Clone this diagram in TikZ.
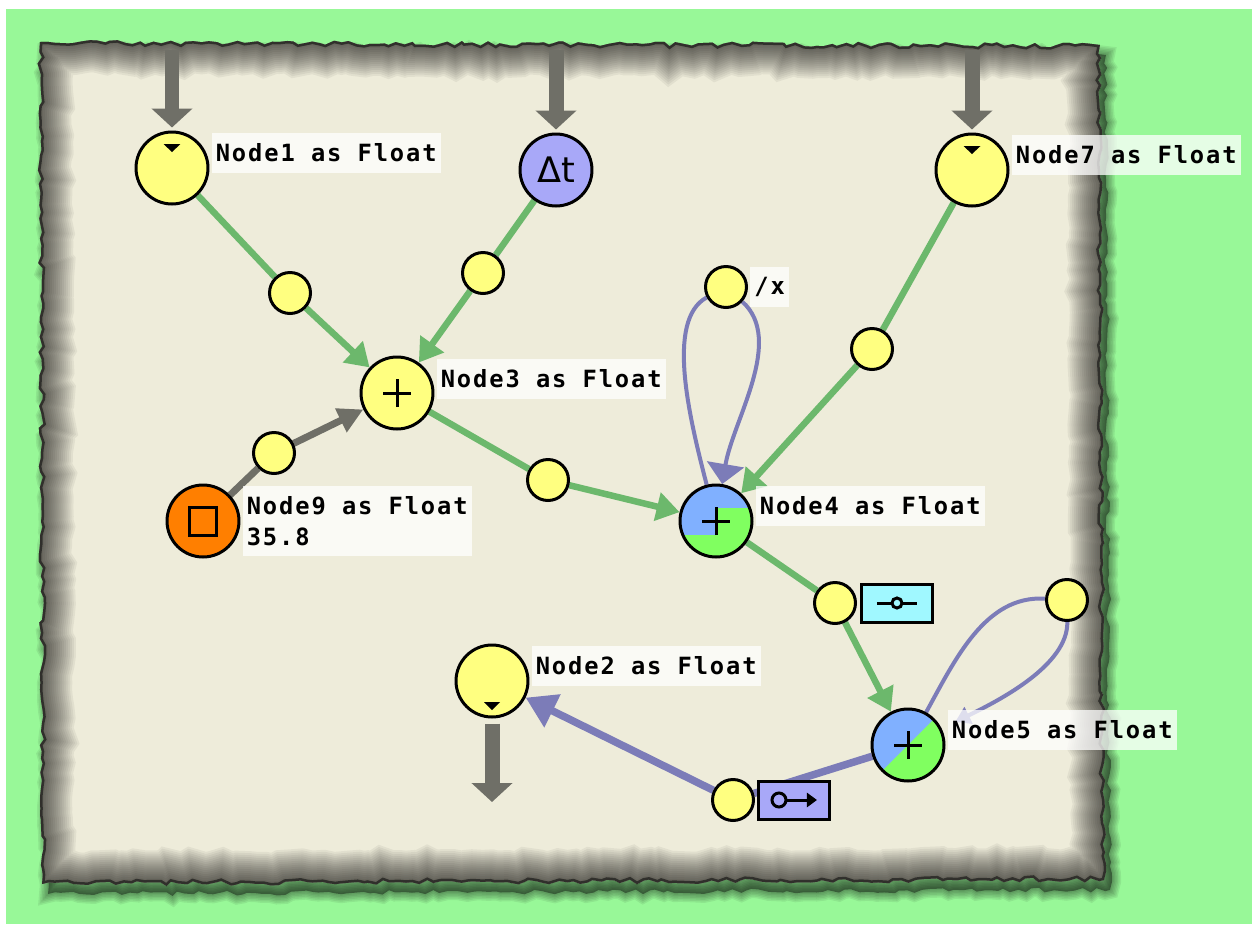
\documentclass[tikz,border=0pt]{standalone}
\usepackage{fontspec}
\usetikzlibrary{positioning, arrows.meta, decorations.pathmorphing}
\newfontfamily\tagfont{DejaVu Sans Mono}[LetterSpace=8]
\newfontfamily\symfont{DejaVu Sans}
\definecolor{meadow}{HTML}{98F898}
\definecolor{parchment}{HTML}{EEECDA}
\definecolor{dotyellow}{HTML}{FFFF80}
\definecolor{flowgreen}{HTML}{6CB86C}
\definecolor{loopblue}{HTML}{7C7CB8}
\definecolor{feedgrey}{HTML}{6F6F67}
\definecolor{sumblue}{HTML}{80B0FF}
\definecolor{sumgreen}{HTML}{80FF60}
\definecolor{constorange}{HTML}{FF7F00}
\definecolor{timeviolet}{HTML}{A8A8F8}
\definecolor{gatecyan}{HTML}{A0F8FF}
\pgfdeclarelayer{paper}
\pgfdeclarelayer{wires}
\pgfsetlayers{paper,wires,main}
% outline of the torn sheet, in pixels
\newcommand{\paperedge}{(40,42) -- (1100,45) -- (1104,880) -- (42,884) -- cycle}
\newcommand{\plusmark}{\draw[black, line width=0.06cm]
  ([xshift=-0.28cm]path picture bounding box.center) -- ([xshift=0.28cm]path picture bounding box.center)
  ([yshift=-0.28cm]path picture bounding box.center) -- ([yshift=0.28cm]path picture bounding box.center);}
\tikzset{
  tornedge/.style={decorate, decoration={random steps, segment length=0.14cm, amplitude=0.05cm}},
  op/.style={circle, draw, line width=0.06cm, minimum size=1.44cm, inner sep=0pt},
  port/.style={circle, draw, line width=0.06cm, fill=dotyellow, minimum size=0.82cm, inner sep=0pt},
  gate/.style={draw, line width=0.06cm, minimum width=1.42cm, minimum height=0.76cm, inner sep=0pt},
  tag/.style={fill=white, fill opacity=0.75, text opacity=1, align=left,
    font=\tagfont\bfseries\fontsize{13.5}{18}\selectfont, inner xsep=0.08cm, inner ysep=0.21cm},
  notchtop/.style={path picture={\fill[black] ([shift={(-0.17cm,-0.24cm)}]path picture bounding box.north)
    -- ([shift={(0.17cm,-0.24cm)}]path picture bounding box.north) -- ([yshift=-0.4cm]path picture bounding box.north) -- cycle;}},
  notchbottom/.style={path picture={\fill[black] ([shift={(-0.16cm,0.3cm)}]path picture bounding box.south)
    -- ([shift={(0.16cm,0.3cm)}]path picture bounding box.south) -- ([yshift=0.14cm]path picture bounding box.south) -- cycle;}},
  sumplain/.style={fill=dotyellow, path picture={\plusmark}},
  sumflat/.style={path picture={
    \fill[sumgreen] (path picture bounding box.south west) rectangle (path picture bounding box.north east);
    \fill[sumblue] (path picture bounding box.north west) rectangle ([yshift=-0.46cm]path picture bounding box.north east);
    \fill[sumblue] (path picture bounding box.north west) rectangle ([yshift=-1.0cm]path picture bounding box.north);
    \plusmark}},
  sumslant/.style={fill=sumblue, path picture={
    \fill[sumgreen] (path picture bounding box.south west) -- (path picture bounding box.north east)
      -- (path picture bounding box.south east) -- cycle;
    \plusmark}},
  flow/.style={draw=flowgreen, line width=0.13cm},
  flowtip/.style={flow, -{Triangle[length=0.46cm,width=0.56cm]}},
  loopwire/.style={draw=loopblue, line width=0.08cm},
  backwire/.style={draw=loopblue, line width=0.15cm},
  feed/.style={draw=feedgrey, line width=0.3cm, -{Triangle[length=0.38cm,width=0.8cm]}},
  feedthin/.style={draw=feedgrey, line width=0.14cm},
}

\begin{document}
\begin{tikzpicture}[x=0.02cm, y=-0.02cm]
\useasboundingbox (0,0) rectangle (1252,924);

% background and torn sheet
\begin{pgfonlayer}{paper}
  \fill[white] (0,0) rectangle (1252,924);
  \fill[meadow] (6,9) rectangle (1252,924);
  \begin{scope}[shift={(6,10)}] % drop shadow
    \foreach \w in {0.06,0.12,...,0.36} {
      \pgfmathsetseed{11}
      \draw[tornedge, black, opacity=0.07, line width=\w cm] \paperedge;
    }
    \pgfmathsetseed{11}
    \fill[tornedge, black, opacity=0.4] \paperedge;
  \end{scope}
  \pgfmathsetseed{11}
  \fill[tornedge, parchment] \paperedge;
  \begin{scope} % scorched rim
    \pgfmathsetseed{11}
    \clip[tornedge] \paperedge;
    \foreach \w in {0.08,0.16,...,1.3} {
      \pgfmathsetseed{11}
      \draw[tornedge, black, opacity=0.05, line width=\w cm] \paperedge;
    }
    \pgfmathsetseed{11}
    \draw[tornedge, black, opacity=0.5, line width=0.1cm] \paperedge;
  \end{scope}
\end{pgfonlayer}

% operators
\node[op, fill=dotyellow, notchtop] (n1) at (172,168) {};
\node[op, fill=timeviolet, font=\symfont\fontsize{20}{24}\selectfont] (dt) at (556,170) {Δt};
\node[op, fill=dotyellow, notchtop] (n7) at (972,170) {};
\node[op, sumplain] (n3) at (397,393) {};
\node[op, fill=constorange, path picture={\draw[black, line width=0.06cm]
  ([shift={(-0.28cm,-0.28cm)}]path picture bounding box.center) rectangle
  ([shift={(0.28cm,0.28cm)}]path picture bounding box.center);}] (n9) at (203,521) {};
\node[op, sumflat] (n4) at (716,521) {};
\node[op, sumslant] (n5) at (908,745) {};
\node[op, fill=dotyellow, notchbottom] (n2) at (492,681) {};

% ports on the wires
\node[port] (p1) at (290,293) {};
\node[port] (pdt) at (483,273) {};
\node[port] (p7) at (872,349) {};
\node[port] (px) at (726,287) {};
\node[port] (p9) at (274,453) {};
\node[port] (p3) at (548,480) {};
\node[port] (p4) at (835,603) {};
\node[port] (pr) at (1067,600) {};
\node[port] (p5) at (733,800) {};

% gates next to ports
\node[gate, fill=gatecyan, right=0.06cm of p4, path picture={
  \draw[black, line width=0.06cm] ([xshift=-0.4cm]path picture bounding box.center) -- ([xshift=-0.1cm]path picture bounding box.center)
    ([xshift=0.1cm]path picture bounding box.center) -- ([xshift=0.4cm]path picture bounding box.center);
  \draw[black, line width=0.06cm] (path picture bounding box.center) circle (0.1cm);}] (g4) {};
\node[gate, fill=timeviolet, right=0.04cm of p5, path picture={
  \draw[black, line width=0.06cm] ([xshift=-0.3cm]path picture bounding box.center) circle (0.14cm);
  \draw[black, line width=0.06cm, -{Triangle[length=0.2cm,width=0.28cm]}]
    ([xshift=-0.16cm]path picture bounding box.center) -- ([xshift=0.46cm]path picture bounding box.center);}] (g5) {};

% captions
\node[tag, right=0.04cm of n1, yshift=0.3cm] (l1) {Node1 as Float};
\node[tag, right=0.04cm of n7, yshift=0.3cm] (l7) {Node7 as Float};
\node[tag, right=0.04cm of n3, yshift=0.28cm] (l3) {Node3 as Float};
\node[tag, right=0.04cm of n9] (l9) {Node9 as Float\\35.8};
\node[tag, right=0.04cm of n4, yshift=0.3cm] (l4) {Node4 as Float};
\node[tag, right=0.04cm of n5, yshift=0.3cm] (l5) {Node5 as Float};
\node[tag, right=0.04cm of n2, yshift=0.3cm] (l2) {Node2 as Float};
\node[tag, right=0.04cm of px] (lx) {/x};

% wires
\begin{pgfonlayer}{wires}
  \coordinate (in1) at (172,50);
  \coordinate (indt) at (556,50);
  \coordinate (in7) at (972,50);
  \coordinate (out2) at (492,802);
  \draw[feed, shorten >=0.06cm] (in1) -- (n1);
  \draw[feed, shorten >=0.06cm] (indt) -- (dt);
  \draw[feed, shorten >=0.06cm] (in7) -- (n7);
  \draw[feed, shorten <=0.1cm] (n2) -- (out2);

  \draw[flow] (n1) -- (p1);
  \draw[flowtip] (p1) -- (n3);
  \draw[flow] (dt) -- (pdt);
  \draw[flowtip] (pdt) -- (n3);
  \draw[flow] (n3) -- (p3);
  \draw[flowtip] (p3) -- (n4);
  \draw[flow] (n7) -- (p7);
  \draw[flowtip] (p7) -- (n4);
  \draw[flow] (n4) -- (p4);
  \draw[flowtip] (p4) -- (n5);

  \draw[feedthin] (n9) -- (p9);
  \draw[feedthin, -{Triangle[length=0.5cm,width=0.5cm]}] (p9) -- (n3);

  % feedback loops
  \draw[loopwire] (n4) .. controls (690,420) and (665,320) .. (px);
  \draw[loopwire, -{Triangle[length=0.4cm,width=0.74cm]}] (px) .. controls (785,340) and (733,420) .. (n4);
  \draw[loopwire] (n5) .. controls (955,660) and (985,595) .. (pr);
  \draw[loopwire, shorten >=0.3cm, -{Triangle[length=0.3cm,width=0.36cm]}] (pr) .. controls (1068,665) and (1000,700) .. (n5);

  \draw[backwire] (n5) -- (p5);
  \draw[backwire, -{Triangle[length=0.6cm,width=0.7cm]}] (p5) -- (n2);
\end{pgfonlayer}
\end{tikzpicture}
\end{document}
